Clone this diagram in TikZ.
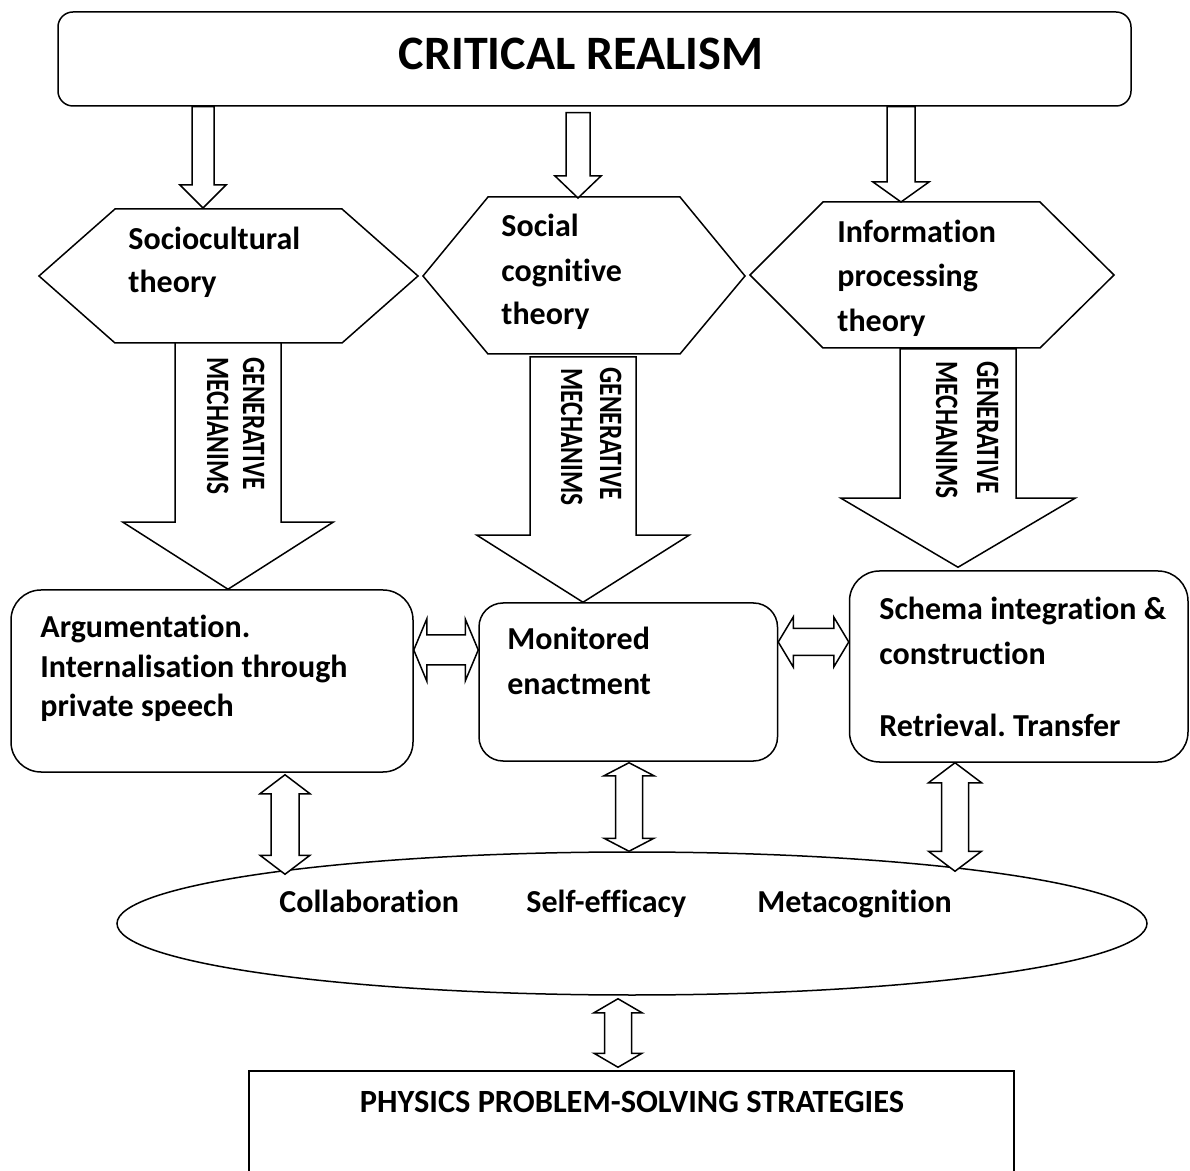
\documentclass[tikz,border=0pt]{standalone}
\usepackage{fontspec}
\setmainfont{Carlito}[Ligatures=NoCommon]
\usetikzlibrary{calc,shapes.geometric}
\newcommand\blkdown[5]{%
  \draw[blk] ($(#1)+(-#3,0)$) -- ($(#2)+(-#3,-#5)$) -- ($(#2)+(-#4,-#5)$) -- (#2) -- ($(#2)+(#4,-#5)$) -- ($(#2)+(#3,-#5)$) -- ($(#1)+(#3,0)$) -- cycle;}
\newcommand\blkvv[5]{%
  \draw[blk] (#1) -- ($(#1)+(#4,#5)$) -- ($(#1)+(#3,#5)$) -- ($(#2)+(#3,-#5)$) -- ($(#2)+(#4,-#5)$) -- (#2) -- ($(#2)+(-#4,-#5)$) -- ($(#2)+(-#3,-#5)$) -- ($(#1)+(-#3,#5)$) -- ($(#1)+(-#4,#5)$) -- cycle;}
\newcommand\blkhh[5]{%
  \draw[blk] (#1) -- ($(#1)+(#5,-#4)$) -- ($(#1)+(#5,-#3)$) -- ($(#2)+(-#5,-#3)$) -- ($(#2)+(-#5,-#4)$) -- (#2) -- ($(#2)+(-#5,#4)$) -- ($(#2)+(-#5,#3)$) -- ($(#1)+(#5,#3)$) -- ($(#1)+(#5,#4)$) -- cycle;}
\frenchspacing
\begin{document}
\begin{tikzpicture}[x=0.5pt,y=-0.5pt,
  ln/.style={draw=black,line width=0.75pt},
  rbox/.style={ln,rounded corners=#1,inner sep=0pt},
  blk/.style={ln,fill=white,line join=miter},
  txt/.style={anchor=base west,inner sep=0pt,font=\bfseries\fontsize{16pt}{19pt}\selectfont},
  gm/.style={anchor=base west,inner sep=0pt,rotate=-90,font=\bfseries\fontsize{16.3pt}{19pt}\selectfont}]
\clip (0,0) rectangle (1190,1171);
\fill[white] (0,0) rectangle (1190,1171);

% top box
\node[rbox=7.5pt, minimum width=536.5pt, minimum height=47pt] (top) at (594.5,59) {};
\node[anchor=base,inner sep=0pt,font=\bfseries\fontsize{24pt}{28pt}\selectfont] (title) at (581,70) {CRITICAL REALISM};

% hexagons
\draw[ln] (39,276) -- (115,209) -- (342,209) -- (418,276) -- (342,343) -- (115,343) -- cycle;
\draw[ln] (423,276) -- (488,197) -- (680,197) -- (745,276) -- (680,354) -- (488,354) -- cycle;
\draw[ln] (750,275) -- (823,202) -- (1040,202) -- (1114,275) -- (1040,348) -- (823,348) -- cycle;
\coordinate (hA-n) at (203,208);
\coordinate (hB-n) at (578,198);
\coordinate (hC-n) at (901,202);
\coordinate (hA-s) at (228,343);
\coordinate (hB-s) at (583,357);
\coordinate (hC-s) at (958,349);

% boxes
\node[rbox=15pt, minimum width=201pt, minimum height=91pt] (bA) at (212,681) {};
\node[rbox=12pt, minimum width=149.25pt, minimum height=79pt] (bB) at (628.25,682) {};
\node[rbox=15pt, minimum width=169.25pt, minimum height=95.5pt] (bC) at (1018.75,666.5) {};
\node[ln, minimum width=382.5pt, minimum height=64.5pt, inner sep=0pt] (bot) at (631.5,1135.5) {};

% arrows from top box
\coordinate (tA) at (top.south -| hA-n);
\coordinate (tB) at ($(top.south -| hB-n)+(0,6)$);
\coordinate (tC) at (top.south -| hC-n);
\blkdown{tA}{hA-n}{11}{23}{23}
\blkdown{tB}{hB-n}{12}{23}{22}
\blkdown{tC}{hC-n}{14}{28}{20}

% generative mechanism arrows
\coordinate (gA) at (bA.north -| hA-s);
\coordinate (gB) at (bB.north -| hB-s);
\coordinate (gC) at ($(bC.north -| hC-s)+(0,-3)$);
\blkdown{hA-s}{gA}{53}{105}{67}
\blkdown{hB-s}{gB}{53}{106}{67}
\blkdown{hC-s}{gC}{58}{117}{69}

% horizontal double arrows
\coordinate (hx1) at ($(bA.east)+(0,-31)$);
\coordinate (hx2) at ($(bB.west)+(0,-32)$);
\coordinate (hx3) at ($(bB.east)+(0,-40)$);
\coordinate (hx4) at ($(bC.west)+(0,-24.5)$);
\blkhh{hx1}{hx2}{15}{31}{13}
\blkhh{hx3}{hx4}{13.5}{25}{15}

% ellipse
\node[ln, ellipse, minimum width=515pt, minimum height=71.5pt, inner sep=0pt] (ell) at (632,923.5) {};

% vertical double arrows
\coordinate (v1a) at ($(bA.south)+(73,2)$);
\coordinate (v1b) at ($(ell.north)+(-347,23)$);
\coordinate (v2a) at ($(bB.south)+(0.75,1)$);
\coordinate (v2b) at ($(ell.north)+(-3,0)$);
\coordinate (v3a) at ($(bC.south)+(-63.75,0)$);
\coordinate (v3b) at ($(ell.north)+(323,20)$);
\coordinate (v4a) at ($(ell.south)+(-14,3)$);
\coordinate (v4b) at ($(bot.north)+(-13.5,-3)$);
\blkvv{v1a}{v1b}{14}{25}{19}
\blkvv{v2a}{v2b}{13.5}{25}{13}
\blkvv{v3a}{v3b}{13.5}{26.5}{20}
\blkvv{v4a}{v4b}{13.5}{24}{14}

% hexagon texts
\node[txt] (sc1) at (128,250) {Sociocultural};
\node[txt] (sc2) at (128,293) {theory};
\node[txt] (so1) at (501,237) {Social};
\node[txt] (so2) at (501,282) {cognitive};
\node[txt] (so3) at (501,325) {theory};
\node[txt] (ip1) at (837,243) {Information};
\node[txt] (ip2) at (837,287) {processing};
\node[txt] (ip3) at (837,332) {theory};

% generative mechanisms labels
\node[gm] (gmA1) at (243,357) {\scalebox{0.78}[1]{GENERATIVE}};
\node[gm] (gmA2) at (207,357) {\scalebox{0.78}[1]{MECHANIMS}};
\node[gm] (gmB1) at (600,367) {\scalebox{0.78}[1]{GENERATIVE}};
\node[gm] (gmB2) at (561,368) {\scalebox{0.78}[1]{MECHANIMS}};
\node[gm] (gmC1) at (977,361) {\scalebox{0.78}[1]{GENERATIVE}};
\node[gm] (gmC2) at (936,361) {\scalebox{0.78}[1]{MECHANIMS}};

% box texts
\node[txt] (a1) at (40,638) {Argumentation.};
\node[txt] (a2) at (40,678) {Internalisation through};
\node[txt] (a3) at (40,717) {private speech};
\node[txt] (m1) at (507,650) {Monitored};
\node[txt] (m2) at (507,695) {enactment};
\node[txt] (s1) at (879,620) {Schema integration \&};
\node[txt] (s2) at (879,665) {construction};
\node[txt] (s3) at (879,737) {Retrieval. Transfer};

% ellipse texts
\node[txt] (e1) at (279,912) {Collaboration};
\node[txt] (e2) at (526,912) {Self-efficacy};
\node[txt] (e3) at (757,912) {Metacognition};

% bottom text
\node[anchor=base,inner sep=0pt,font=\bfseries\fontsize{16.2pt}{19pt}\selectfont] (pt) at (632,1112) {PHYSICS PROBLEM-SOLVING STRATEGIES};
\end{tikzpicture}
\end{document}
